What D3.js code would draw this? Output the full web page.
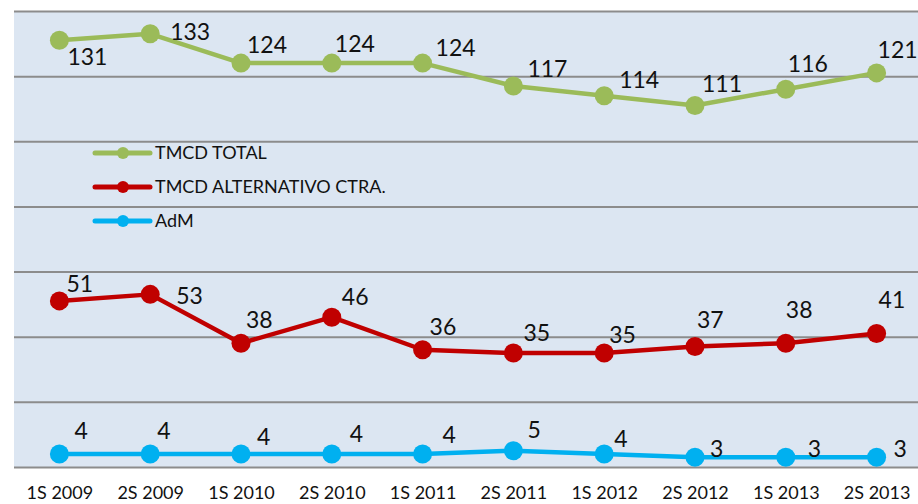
<!DOCTYPE html>
<html>
<head>
<meta charset="utf-8">
<script src="https://cdn.jsdelivr.net/npm/d3@7"></script>
<style>
  body { margin: 0; background: #fff; }
  #chart text { font-family: Lato, "Open Sans", sans-serif; fill: #111; }
</style>
</head>
<body>
<div id="chart"></div>
<script>
(function() {

    var width = 918;
    var height = 504;

    // data
    var periods = ["1S 2009", "2S 2009", "1S 2010", "2S 2010", "1S 2011",
                   "2S 2011", "1S 2012", "2S 2012", "1S 2013", "2S 2013"];
    var tmcdTotal = [131, 133, 124, 124, 124, 117, 114, 111, 116, 121];
    var tmcdAlt   = [51, 53, 38, 46, 36, 35, 35, 37, 38, 41];
    var adm       = [4, 4, 4, 4, 4, 5, 4, 3, 3, 3];
    var seriesNames = ["TMCD TOTAL", "TMCD ALTERNATIVO CTRA.", "AdM"];
    var yTicks = [0, 20, 40, 60, 80, 100, 120, 140];

    // where each data label sits, relative to its point (dx, dy to baseline)
    var labelOffsets = [
        [[8, 25], [20, 6], [6, -10], [3, -11], [13, -7], [14, -9], [15, -8], [7, -13], [2, -17], [1, -15]],
        [[7, -9], [26, 10], [5, -15], [10, -12], [7, -15], [10, -12], [5, -10], [2, -18], [0, -25], [2, -25]],
        [[15, -15], [7, -15], [16, -9], [18, -12], [20, -11], [14, -13], [10, -7], [15, 0], [22, 0], [17, 0]]
    ];

    var colors = ["#9bbb59", "#c00000", "#00b0f0"];
    var seriesValues = [tmcdTotal, tmcdAlt, adm];

    var plotLeft = 14, plotTop = 11, plotBottom = 467, plotRight = 922;

    var svg = d3.select("#chart")
        .append("svg")
        .attr("width", width)
        .attr("height", height);

    var x = d3.scalePoint()
        .domain(periods)
        .range([plotLeft, plotRight])
        .padding(0.5);

    var y = d3.scaleLinear()
        .domain([0, 140])
        .range([plotBottom, plotTop]);

    // plot background
    svg.append("rect")
        .attr("x", plotLeft)
        .attr("y", plotTop)
        .attr("width", width - plotLeft)
        .attr("height", plotBottom - plotTop)
        .attr("fill", "#dce6f2");

    // gridlines
    var grid = svg.append("g")
        .attr("transform", "translate(" + plotLeft + ",0)")
        .call(d3.axisLeft(y).tickValues(yTicks).tickSize(-(width - plotLeft)).tickFormat(""));
    grid.select(".domain").remove();
    grid.selectAll(".tick line")
        .attr("stroke", "#8c8c8c")
        .attr("stroke-width", 2);

    // x axis labels
    var xAxis = svg.append("g")
        .attr("transform", "translate(0," + plotBottom + ")")
        .call(d3.axisBottom(x).tickSize(0).tickPadding(28));
    xAxis.select(".domain").remove();
    xAxis.selectAll("text")
        .attr("font-size", 18)
        .attr("dy", "0.2em");

    var line = d3.line()
        .x(function(d, i) { return x(periods[i]); })
        .y(function(d) { return y(d); });

    seriesValues.forEach(function(vals, s) {
        var g = svg.append("g");

        g.append("path")
            .datum(vals)
            .attr("fill", "none")
            .attr("stroke", colors[s])
            .attr("stroke-width", 4.5)
            .attr("stroke-linejoin", "round")
            .attr("d", line);

        g.selectAll("circle")
            .data(vals)
            .enter().append("circle")
            .attr("cx", function(d, i) { return x(periods[i]); })
            .attr("cy", function(d) { return y(d); })
            .attr("r", 9.5)
            .attr("fill", colors[s]);

        g.selectAll("text")
            .data(vals)
            .enter().append("text")
            .attr("x", function(d, i) { return x(periods[i]) + labelOffsets[s][i][0]; })
            .attr("y", function(d, i) { return y(d) + labelOffsets[s][i][1]; })
            .attr("font-size", 23)
            .text(function(d) { return d; });
    });

    // legend
    var legend = svg.append("g")
        .attr("transform", "translate(95,153)");

    var items = legend.selectAll("g")
        .data(seriesNames)
        .enter().append("g")
        .attr("transform", function(d, i) { return "translate(0," + (i * 34) + ")"; });

    items.append("line")
        .attr("x1", 0).attr("x2", 55)
        .attr("stroke", function(d, i) { return colors[i]; })
        .attr("stroke-width", 5)
        .attr("stroke-linecap", "round");

    items.append("circle")
        .attr("cx", 28)
        .attr("r", 6)
        .attr("fill", function(d, i) { return colors[i]; });

    items.append("text")
        .attr("x", 60)
        .attr("dy", "0.36em")
        .attr("font-size", 18)
        .text(function(d) { return d; });

})();
</script>
</body>
</html>
